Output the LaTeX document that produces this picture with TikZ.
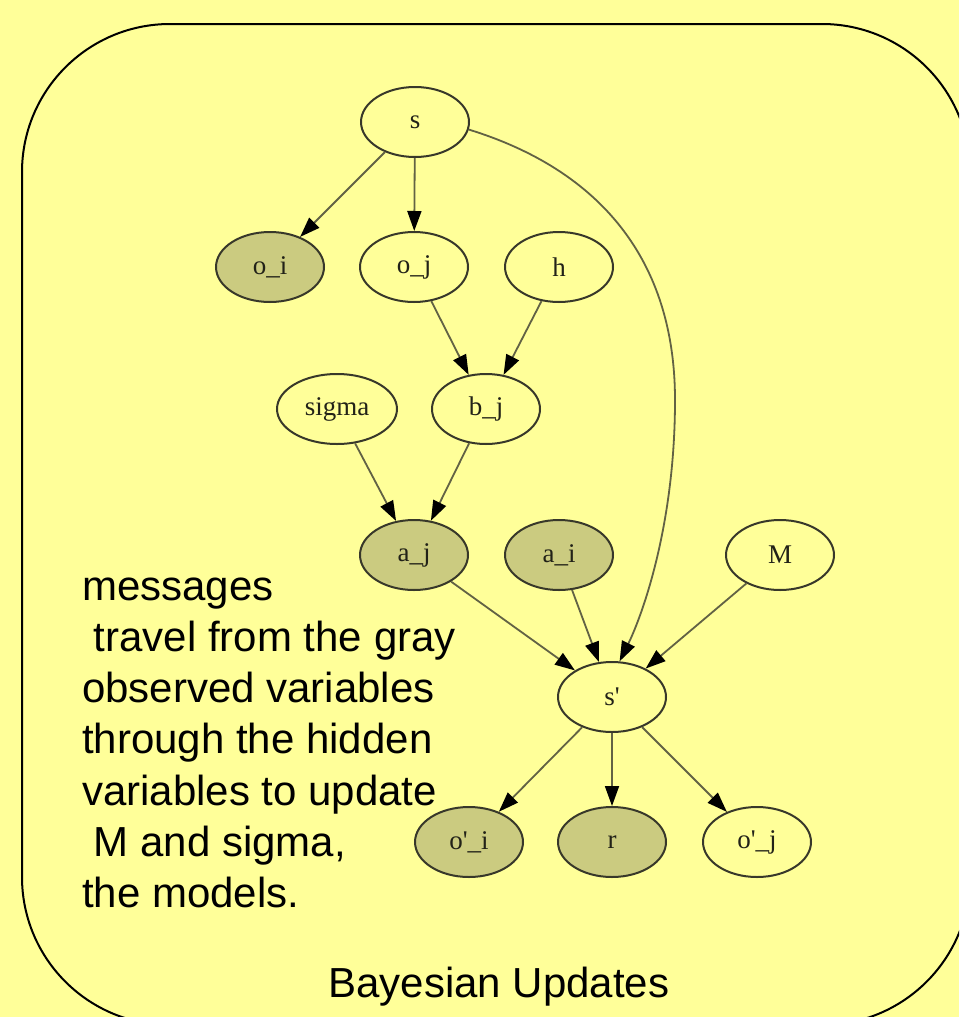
\documentclass[tikz,border=0pt]{standalone}
\usepackage{fontspec}
\setmainfont{Liberation Serif}
\newfontfamily\notefont{Liberation Sans}
\usetikzlibrary{shapes.geometric,arrows.meta}

\definecolor{paper}{HTML}{FFFF99}
\definecolor{observed}{HTML}{CBCB80}
\definecolor{rim}{HTML}{38382A}
\definecolor{wire}{HTML}{626244}
\definecolor{labelink}{HTML}{222218}

\tikzset{
  var/.style={ellipse, draw=rim, line width=2pt, fill=paper,
    minimum width=108pt, minimum height=70pt, inner sep=0pt,
    text=labelink, font=\fontsize{27}{30}\selectfont},
  obs/.style={var, fill=observed},
  link/.style={draw=wire, line width=1.8pt,
    -{Triangle[length=20pt,width=14pt,fill=black,color=black]}},
  note/.style={font=\notefont\fontsize{42}{51.2}\selectfont, text=black, inner sep=0pt}
}

\begin{document}
\begin{tikzpicture}[x=1pt,y=-1pt]
  % page background and outer frame
  \fill[paper] (0,0) rectangle (959,1017);
  \begin{scope}
    \clip (0,0) rectangle (959,1017);
    \draw[black, line width=2pt, rounded corners=148pt] (22,24) rectangle (970,1025);
  \end{scope}

  % network nodes
  \node[var] (s)     at (415,122) {s};
  \node[obs] (oi)    at (270,267) {o\_i};
  \node[var] (oj)    at (414,267) {o\_j};
  \node[var] (h)     at (559,267) {h};
  \node[var, minimum width=120pt] (sigma) at (337,409) {sigma};
  \node[var] (bj)    at (486,409) {b\_j};
  \node[obs] (aj)    at (414,555) {a\_j};
  \node[obs] (ai)    at (559,555) {a\_i};
  \node[var] (M)     at (780,555) {M};
  \node[var] (sp)    at (612,697) {s\textquotesingle};
  \node[obs] (opi)   at (469,842) {o\textquotesingle\_i};
  \node[obs] (r)     at (612,842) {r};
  \node[var] (opj)   at (757,842) {o\textquotesingle\_j};

  % dependencies
  \draw[link] (s) -- (oi);
  \draw[link] (s) -- (oj);
  \draw[link] (s.-8) .. controls (600,170) and (675,260) .. (675,400)
                     .. controls (675,530) and (640,620) .. (sp.78);
  \draw[link] (oj) -- (bj);
  \draw[link] (h) -- (bj);
  \draw[link] (sigma) -- (aj);
  \draw[link] (bj) -- (aj);
  \draw[link] (aj) -- (sp);
  \draw[link] (ai) -- (sp);
  \draw[link] (M) -- (sp);
  \draw[link] (sp) -- (opi);
  \draw[link] (sp) -- (r);
  \draw[link] (sp) -- (opj);

  % explanation and caption
  \node[note, align=left, anchor=north west] (expl) at (82,564.2)
    {\strut messages\\
     \hspace*{0.28em}travel from the gray\\
     observed variables\\
     through the hidden\\
     variables to update\\
     \hspace*{0.28em}M and sigma,\\
     the models.};
  \node[note, anchor=base] (caption) at (499,997) {Bayesian Updates};
\end{tikzpicture}
\end{document}
